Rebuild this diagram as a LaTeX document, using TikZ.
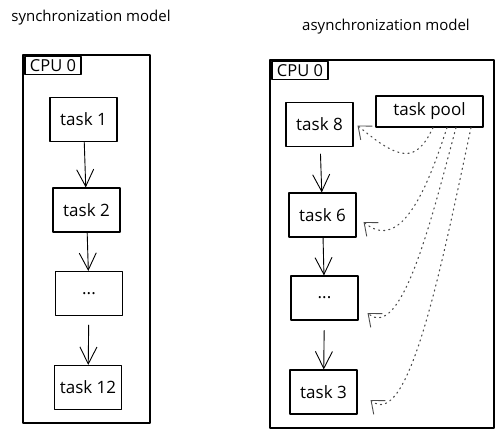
\documentclass[tikz,border=0pt]{standalone}
\usepackage{fontspec}
\setmainfont{Open Sans}
\usetikzlibrary{arrows.meta}
\newcommand\etcdots{...}
\tikzset{
  task/.style={draw,line width=1.1pt,minimum width=67,minimum height=44,inner sep=0pt,font=\fontsize{17}{19}\selectfont},
  cpu/.style={draw,line width=1.1pt,minimum width=56,minimum height=18,inner sep=0pt,font=\fontsize{16.5}{18}\selectfont},
  flow/.style={line width=0.9pt,-{Straight Barb[length=17pt,width=17pt,line width=0.9pt]}},
  fetch/.style={draw=black!70,line width=1.1pt,dash pattern=on 1.2pt off 4pt,-{Straight Barb[length=11pt,width=18pt,line width=0.9pt]}},
}
\begin{document}
\begin{tikzpicture}[x=1pt,y=1pt,line join=round,line cap=round,font=\fontsize{15}{17}\selectfont]
    \useasboundingbox (0,0) rectangle (503,-438);
    \node (synT) at (91,-18) {synchronization model};
    \node (asynT) at (386,-27) {asynchronization model};
    % synchronization
    \draw[line width=1.1pt] (23,-55) rectangle (150,-423);
    \node[cpu] (cpuS) at (53,-65.5) {CPU 0};
    \foreach \n/\x/\y/\t in {t1/83.5/119.5/task 1,t2/86.5/210/task 2,dS/89/293.5/\etcdots,t12/88/387.5/task 12}
    \node[task] (\n) at (\x,-\y) {\t};
    \foreach \a/\b/\g in {t1/t2/0,t2/dS/0,dS/t12/9}
    \draw[flow,shorten <=\g pt] (\a) -- (\b);
    % asynchronization
    \draw[line width=1.1pt] (270,-60) rectangle (494,-428);
    \node[cpu] (cpuA) at (300,-70.5) {CPU 0};
    \node[task,minimum width=107,minimum height=31] (pool) at (429.5,-111.5) {task pool};
    \foreach \n/\x/\y/\t in {t8/319.5/124.5/task 8,t6/322.5/215/task 6,dA/324.5/298/\etcdots,t3/323.5/392/task 3}
    \node[task] (\n) at (\x,-\y) {\t};
    \foreach \a/\b/\g in {t8/t6/7,t6/dA/0,dA/t3/10}
    \draw[flow,shorten <=\g pt] (\a) -- (\b);
    \foreach \s/\t/\p/\o/\d/\e in {3.5/t8/{(4,-1)}/-115/40/55,17.5/t6/{(7,-7)}/-108/60/50,26.5/dA/{(9,-15)}/-105/90/45,41.5/t3/{(13,-8)}/-102/140/50}
    \draw[fetch] ([xshift=\s pt]pool.south) to[out=\o,in=-40,out distance=\d pt,in distance=\e pt] ([shift={\p}]\t.east);
\end{tikzpicture}
\end{document}
